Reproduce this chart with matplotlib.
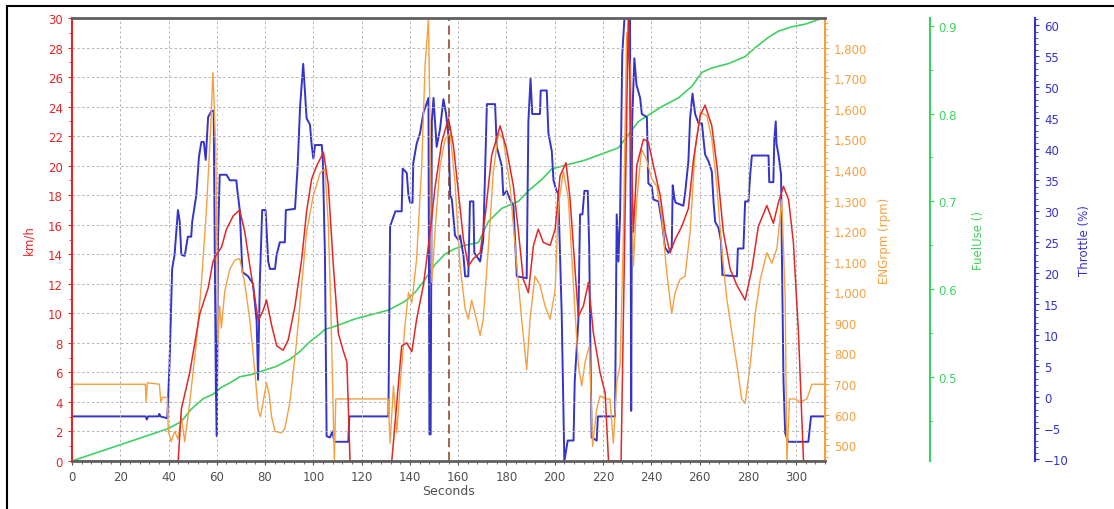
import matplotlib
matplotlib.use("Agg")
import matplotlib.pyplot as plt
from matplotlib.ticker import MultipleLocator, FuncFormatter
from matplotlib.patches import Rectangle

# speed (km/h)
speed_t = [0, 44, 45.3, 48.8, 53, 56.4, 58.4, 60, 62, 64, 66.8, 69.5, 71.6, 73.7, 75.8, 77.1,
           79.2, 80.6, 82.7, 84.8, 87.5, 89.6, 92.4, 95.2, 97.2, 99.3, 101.4, 104.2, 106.2,
           108.3, 110.4, 112.5, 113.9, 115.2, 132.5, 136.6, 138.7, 140.8, 142.8, 145.6, 148.4,
           150.4, 153.2, 156, 158, 160.1, 162.2, 164.2, 166.3, 169.1, 171.2, 173.9, 177.4,
           180.1, 182.9, 185, 187, 189.1, 191.2, 193.2, 195.3, 198.1, 200.2, 202.2, 204.7,
           206.4, 208.5, 209.8, 211.9, 214, 216, 218.8, 220.9, 222.3, 227.5, 230.5, 232.6,
           234, 236.8, 238.8, 240.9, 243.7, 245.8, 247.8, 249.9, 252.7, 255.4, 257.5, 260.3,
           262.3, 265.1, 267.2, 269.9, 272.7, 275.5, 278.9, 281.7, 284.4, 287.9, 290.6,
           292.7, 294.8, 296.9, 298.9, 301, 303.1, 312]
speed_kmh = [0, 0, 3.5, 6, 10, 11.7, 13.5, 14, 14.5, 15.7, 16.6, 17, 15.5, 13.2, 11, 9.5,
             10.2, 10.9, 9.2, 7.8, 7.5, 8.2, 10.5, 13.7, 16.9, 19.1, 20, 20.9, 18.7,
             13.2, 8.6, 7.4, 6.7, 0, 0, 7.8, 8, 7.4, 9.6, 11.9, 15.5,
             18.5, 21.6, 23.2, 21.4, 18.2, 15, 13.2, 13.7, 14.1, 16.6, 20.7, 22.7,
             21.1, 18.6, 15.5, 12.3, 11.4, 14.6, 15.7, 14.8, 14.6, 15.7, 19.3, 20.2,
             17.7, 12.8, 9.8, 10.5, 12.1, 8.7, 6, 4.6, 0, 0, 30, 15.5,
             20, 21.8, 21.6, 20, 18, 15.5, 14.1, 15, 15.9, 17.1, 20.4, 23.4,
             24.1, 22.7, 20, 15.5, 13, 11.9, 10.9, 13, 15.9, 17.3, 16.1,
             17.5, 18.6, 17.7, 14.8, 8.7, 0, 0]

# engine speed (rpm)
rpm_t = [0, 30.4, 30.7, 31.2, 36.2, 36.8, 37.5, 39.5, 39.9, 41.1, 42.5, 43.9, 45.3, 46.7,
         48.8, 51.5, 53.6, 55.7, 57.3, 58.4, 59.6, 60.1, 60.5, 61.2, 61.9, 63.3, 65.4, 67.5,
         69.5, 71.6, 73.7, 75.8, 77.1, 78.1, 79.2, 80.6, 81.7, 82.7, 84.1, 86.8, 88.2, 90.3,
         93, 95.2, 97.2, 100, 102.8, 104.8, 106.2, 107.3, 108.3, 108.7, 109.3, 131, 131.8,
         133.2, 134.6, 136, 138, 139.4, 140.8, 142.8, 144.9, 146.3, 147.7, 148.4, 149.1,
         150.4, 152.5, 154.6, 156.7, 158.7, 160.8, 162.9, 164.2, 165.6, 167, 169.1, 170.4,
         172.5, 174.6, 176.7, 178.7, 181.5, 184.3, 186.3, 188.4, 189.8, 191.8, 193.9, 196,
         198.1, 200.2, 201.5, 203.6, 205.7, 207.7, 209.8, 211.2, 212.6, 214.4, 215.7, 217.4,
         218.8, 220.9, 222.9, 224.3, 225.7, 227.1, 228.5, 229.8, 231.2, 232.6, 234, 236,
         238.1, 240.2, 242.3, 244.3, 246.4, 248.5, 249.9, 251.9, 254, 256.1, 258.2, 260.3,
         263, 265.1, 267.2, 269.2, 271.3, 273.4, 275.5, 277.5, 278.9, 281, 283.1, 285.2,
         287.9, 290, 292.1, 294.1, 295.5, 296.2, 297.3, 299.6, 301.7, 304.5, 306.6, 312]
rpm = [699, 699, 641, 704, 699, 641, 656, 656, 545, 511, 545, 520, 593, 511,
       641, 834, 1028, 1269, 1511, 1718, 1462, 1124, 834, 955, 883, 1003, 1076, 1105,
       1110, 1028, 907, 738, 617, 593, 641, 704, 665, 593, 545, 540, 554, 641,
       834, 1028, 1197, 1317, 1390, 1404, 1221, 931, 593, 448, 651, 651, 506,
       694, 540, 704, 892, 999, 965, 1110, 1414, 1742, 1897, 1520, 1032,
       1197, 1414, 1501, 1520, 1356, 1086, 945, 912, 974, 931, 859, 912,
       1144, 1395, 1520, 1501, 1346, 1086, 912, 747, 912, 1052, 1023, 955,
       912, 1008, 1284, 1395, 1303, 1032, 762, 694, 772, 825, 496, 617,
       661, 651, 651, 506, 704, 762, 1197, 1849, 1742, 1086, 1303, 1467,
       1433, 1371, 1346, 1250, 1066, 931, 999, 1042, 1052, 1197, 1467, 1588,
       1578, 1501, 1346, 1144, 979, 868, 762, 651, 636, 762, 931, 1042,
       1129, 1095, 1144, 1303, 979, 448, 651, 651, 641, 651, 699, 699]

# throttle (%)
thr_t = [0, 30.5, 31, 31.5, 35.8, 36.2, 36.6, 39.5, 40.4, 41.5, 42.5, 43.9, 44.6, 45.3, 46.7,
         48, 49.4, 49.8, 51.5, 52.6, 53.6, 54.6, 55.4, 56.4, 57.8, 58.7, 59.6, 60, 60.5,
         61.2, 64, 65.4, 68.1, 68.4, 69.5, 70.6, 73, 75, 76.5, 77.1, 77.8, 78.8, 80.2,
         81.3, 82, 84.1, 84.8, 86.1, 88.2, 88.6, 92.4, 93.5, 94.5, 95.8, 96.5, 97.2, 98.6,
         99.3, 100, 100.7, 103.5, 103.9, 104.8, 105.5, 106.9, 107.9, 108.7, 114.5, 114.9,
         131.1, 131.8, 134, 136.6, 137, 138.7, 139.4, 140.1, 141.1, 141.4, 142.8, 144.2,
         145.6, 147.7, 148.1, 148.6, 149.1, 149.8, 150.4, 151.1, 152.5, 153.9, 155, 156,
         156.7, 157.4, 158.7, 160.1, 160.8, 162.2, 162.9, 164.2, 164.9, 166.3, 166.7, 169.1,
         170.4, 171.9, 175.3, 176, 178.1, 178.7, 180.1, 181.5, 182.9, 184.3, 188.4, 189.1,
         190, 190.7, 193.9, 194.2, 196.7, 197.4, 198.8, 199.5, 200.6, 201.5, 202.9, 204,
         205.4, 207.8, 208.3, 209.8, 210.5, 211.5, 212.3, 213.7, 214.3, 214.8, 215.3, 217.4,
         217.9, 225, 225.7, 226.4, 227.1, 228, 229.2, 231.2, 231.7, 232.1, 233, 233.9,
         235.4, 236.1, 238.2, 238.6, 238.8, 240.2, 240.9, 243, 244.4, 245.7, 247.1, 248.5,
         248.9, 249.6, 250.1, 253.3, 254, 255.4, 256.1, 257.1, 258.2, 259.6, 261, 262.3,
         263.7, 265.1, 265.8, 266.5, 267.9, 268.9, 269.5, 275.5, 275.9, 278.2, 278.9, 280.3,
         281, 281.7, 288.6, 288.9, 290.6, 291, 291.6, 291.9, 292.7, 293.8, 294.1, 294.8,
         295.5, 296.8, 305.1, 306.2, 312]
thr = [-3.1, -3.1, -3.6, -3.1, -3.1, -2.7, -3.1, -3.4, 5.2, 20.7, 23.0, 30.2, 28.5, 23.0, 22.8,
       25.9, 25.9, 28.3, 32.6, 38.8, 41.2, 41.2, 38.3, 45.2, 46.2, 46.2, 1.6, -6.3, 25.4,
       35.9, 35.9, 35.0, 35.0, 33.8, 30.2, 20.2, 19.5, 18.3, 12.3, 2.8, 18.3, 30.2, 30.2,
       21.9, 20.7, 20.7, 23.0, 25.0, 25.0, 30.2, 30.4, 37.3, 46.9, 53.8, 49.3, 45.0, 44.0,
       40.7, 38.5, 40.7, 40.7, 38.5, 23.0, -6.3, -6.5, -5.5, -7.2, -7.2, -3.1,
       -3.1, 27.6, 30.0, 30.0, 36.9, 36.2, 32.6, 31.4, 31.4, 37.8, 40.9, 42.6,
       45.9, 48.3, -6.0, -6.0, 44.5, 48.3, 44.5, 40.4, 43.3, 48.1, 45.7, 42.1,
       32.6, 31.9, 26.1, 25.4, 26.1, 22.8, 19.5, 19.5, 31.6, 31.6, 23.3, 21.9,
       25.4, 47.3, 47.3, 40.4, 37.3, 32.6, 33.3, 31.9, 30.9, 19.5, 19.2, 44.5,
       51.4, 45.7, 45.7, 49.5, 49.5, 42.6, 39.7, 35.0, 33.5, 32.8, 13.5, -10.3,
       -7.0, -7.0, 2.6, 12.3, 29.5, 29.5, 33.3, 33.3, 24.2, 8.0, -6.5, -7.0,
       -3.1, -3.1, 29.5, 21.9, 29.5, 55.4, 63, 63, -2.2, 44.5, 54.7, 50.4,
       48.3, 45.7, 45.2, 38.5, 34.5, 34.0, 31.9, 31.6, 28.3, 24.2, 23.3, 24.2,
       34.2, 32.1, 31.4, 30.9, 32.8, 38.1, 45.0, 49.0, 45.7, 44.2, 44.2, 39.2,
       38.1, 36.4, 31.6, 28.3, 27.3, 25.2, 19.7, 19.5, 24.0, 24.0, 31.6, 31.6,
       35.9, 39.0, 39.0, 34.7, 34.7, 41.6, 44.5, 40.9, 39.2, 35.9, 24.2, 2.6,
       -5.8, -7.2, -7.2, -3.1, -3.1]

# fuel used
fuel_t = [0, 40, 45.3, 49.4, 54.3, 58.4, 61.9, 65.4, 69.5, 75, 79.2, 84.8, 90.3, 94.5, 98.6,
          102.8, 104.8, 108.3, 112.5, 117.3, 124.2, 131.1, 138, 142.1, 146.3, 150.4, 154.6,
          158.7, 162.9, 168.4, 172.5, 178.1, 185, 189.1, 194.7, 198.8, 205.7, 212.6, 219.5,
          226.4, 230.5, 234.7, 237.5, 244.4, 251.3, 256.8, 261, 265.1, 272, 278.9, 283,
          288.6, 292.7, 298.3, 303.8, 311]
fuel = [0.404, 0.441, 0.449, 0.463, 0.475, 0.480, 0.488, 0.493, 0.500, 0.503, 0.507, 0.512,
        0.520, 0.529, 0.540, 0.549, 0.554, 0.557, 0.561, 0.566, 0.571, 0.576, 0.586, 0.596,
        0.611, 0.628, 0.640, 0.646, 0.650, 0.653, 0.677, 0.692, 0.700, 0.712, 0.725, 0.737,
        0.742, 0.747, 0.754, 0.761, 0.776, 0.791, 0.796, 0.808, 0.818, 0.831, 0.847, 0.852,
        0.857, 0.865, 0.875, 0.887, 0.894, 0.899, 0.902, 0.909]

cursor_t = 156

c_red = '#e02828'
c_org = '#f5a040'
c_grn = '#40d060'
c_blu = '#3434c8'
fs = 8.5

fig = plt.figure(figsize=(11.14, 5.1), dpi=100)
ax = fig.add_axes([72/1114, 48/510, 753/1114, 443/510])
ax_rpm = ax.twinx()
ax_fuel = ax.twinx()
ax_thr = ax.twinx()

# draw order: fuel, throttle, rpm, speed on top
ax_fuel.set_zorder(1)
ax_thr.set_zorder(2)
ax_rpm.set_zorder(3)
ax.set_zorder(4)
for a in (ax, ax_rpm, ax_thr):
    a.patch.set_visible(False)

ax_fuel.plot(fuel_t, fuel, color=c_grn, lw=1.2)
ax_thr.plot(thr_t, thr, color=c_blu, lw=1.4)
ax_rpm.plot(rpm_t, rpm, color=c_org, lw=1.0)
ax.plot(speed_t, speed_kmh, color=c_red, lw=1.1)
ax.axvline(cursor_t, color='#8a3a20', lw=1.1, ls=(0, (6, 3)))

ax.set_xlim(0, 312)
ax.set_ylim(0, 30)
ax.set_xticks(range(0, 301, 20))
ax.xaxis.set_minor_locator(MultipleLocator(4))
ax.yaxis.set_major_locator(MultipleLocator(2))
ax.yaxis.set_minor_locator(MultipleLocator(1))
ax.grid(True, which='major', color='#b4b4b4', ls=(0, (2.5, 2.5)), lw=0.7)
ax.tick_params(axis='x', colors='#505050', labelsize=fs, length=3)
ax.tick_params(axis='x', which='minor', colors='#505050', length=2)
ax.tick_params(axis='y', colors=c_red, labelsize=fs, length=3)
ax.tick_params(axis='y', which='minor', colors=c_red, length=2)
ax.spines['left'].set_color(c_red)
ax.spines['left'].set_linewidth(1.5)
ax.spines['top'].set_color('#606060')
ax.spines['top'].set_linewidth(2)
ax.spines['bottom'].set_color('#606060')
ax.spines['bottom'].set_linewidth(2)
ax.spines['right'].set_visible(False)
ax.set_xlabel('Seconds', color='#505050', fontsize=9, labelpad=1)
ax.set_ylabel('km/h', color=c_red, fontsize=fs)
ax.yaxis.set_label_coords(-0.048, 0.5)

# rpm axis
ax_rpm.set_ylim(448, 1897)
ax_rpm.yaxis.set_minor_locator(MultipleLocator(20))
ax_rpm.yaxis.set_major_formatter(FuncFormatter(lambda v, p: f'{v:,.0f}'))
ax_rpm.set_yticks(range(500, 1801, 100))
ax_rpm.tick_params(axis='y', colors=c_org, labelsize=fs, length=3)
ax_rpm.tick_params(axis='y', which='minor', colors=c_org, length=2)
ax_rpm.spines['right'].set_color(c_org)
ax_rpm.spines['right'].set_linewidth(1.5)
ax_rpm.set_ylabel('ENGrpm (rpm)', color=c_org, fontsize=fs)
ax_rpm.yaxis.set_label_coords(1.070, 0.5)

# fuel axis
ax_fuel.spines['right'].set_position(('axes', 1.139))
ax_fuel.set_ylim(0.404, 0.909)
ax_fuel.set_yticks([0.5, 0.6, 0.7, 0.8, 0.9])
ax_fuel.yaxis.set_minor_locator(MultipleLocator(0.05))
ax_fuel.tick_params(axis='y', colors=c_grn, labelsize=fs, length=3)
ax_fuel.tick_params(axis='y', which='minor', colors=c_grn, length=2)
ax_fuel.spines['right'].set_color(c_grn)
ax_fuel.spines['right'].set_linewidth(1.5)
ax_fuel.set_ylabel('FuelUse ()', color=c_grn, fontsize=fs)
ax_fuel.yaxis.set_label_coords(1.195, 0.5)

# throttle axis
ax_thr.spines['right'].set_position(('axes', 1.279))
ax_thr.set_ylim(-10.3, 61.2)
ax_thr.set_yticks(range(-10, 61, 5))
ax_thr.yaxis.set_minor_locator(MultipleLocator(1))
ax_thr.tick_params(axis='y', colors=c_blu, labelsize=fs, length=3)
ax_thr.tick_params(axis='y', which='minor', colors=c_blu, length=2)
ax_thr.spines['right'].set_color(c_blu)
ax_thr.spines['right'].set_linewidth(1.5)
ax_thr.set_ylabel('Throttle (%)', color=c_blu, fontsize=fs)
ax_thr.yaxis.set_label_coords(1.336, 0.5)

for a in (ax_rpm, ax_fuel, ax_thr):
    for s in ('top', 'bottom', 'left'):
        a.spines[s].set_visible(False)

# outer frame of the picture
fig.patches.append(Rectangle((7/1114, -0.1), 1.2, 0.1 + 503/510, transform=fig.transFigure,
                             fill=False, edgecolor='black', lw=1.5))

fig.savefig('out.png', dpi=100)
